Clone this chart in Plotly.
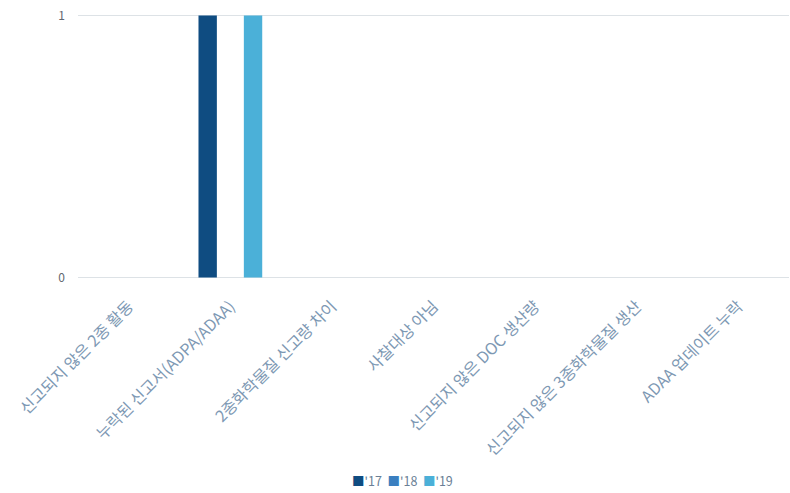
import plotly.graph_objects as go

categories = [
    "신고되지 않은 2종 활동",
    "누락된 신고서(ADPA/ADAA)",
    "2종화학물질 신고량 차이",
    "사찰대상 아님",
    "신고되지 않은 DOC 생산량",
    "신고되지 않은 3종화학물질 생산",
    "ADAA 업데이트 누락",
]
series_names = ["'17", "'18", "'19"]
values_17 = [0, 1, 0, 0, 0, 0, 0]
values_18 = [0, 0, 0, 0, 0, 0, 0]
values_19 = [0, 1, 0, 0, 0, 0, 0]
colors = ["#0f4c81", "#3a7fc0", "#4bb0d8"]

fig = go.Figure()
for name, vals, col in zip(series_names, [values_17, values_18, values_19], colors):
    fig.add_trace(go.Bar(name=name, x=categories, y=vals, marker_color=col,
                         marker_line_width=0, showlegend=False))

# compact legend row under the chart
legend_text = "&nbsp;&nbsp;".join(
    f"<span style='color:{c}'>■</span>{n}" for n, c in zip(series_names, colors)
)
fig.add_annotation(text=legend_text, xref="paper", yref="paper", x=0.456, y=-0.75,
                   xanchor="center", yanchor="middle", showarrow=False,
                   font=dict(size=12.5, color="#6a7f96"))

font_family = "Noto Sans CJK KR, Noto Sans, sans-serif"
fig.update_layout(
    width=790, height=493,
    margin=dict(l=78, r=1, t=13, b=213),
    paper_bgcolor="white", plot_bgcolor="white",
    barmode="group", bargap=0.33, bargroupgap=0.19,
    font=dict(family=font_family, size=12, color="#6b88a6"),
    xaxis=dict(tickangle=-45, showgrid=False, showline=False, zeroline=False,
               automargin=False, ticklabelstandoff=13,
               tickfont=dict(size=16, color="#7d98b3")),
    yaxis=dict(range=[-0.01, 1.01], tickvals=[0, 1], showgrid=True,
               gridcolor="#dde2e6", gridwidth=1, zeroline=False, showline=False,
               automargin=False, ticklabelstandoff=12,
               tickfont=dict(size=12, color="#62686f")),
)

fig.write_html("out.html")
